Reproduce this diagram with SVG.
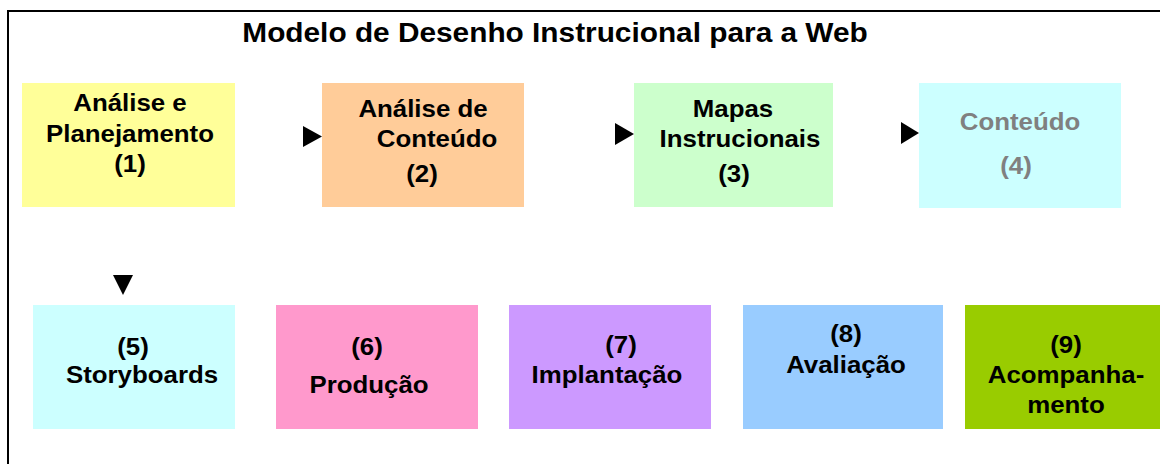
<svg xmlns="http://www.w3.org/2000/svg" width="1160" height="464" viewBox="0 0 1160 464">
<style>
.t{font-family:"Liberation Sans",Arial,sans-serif;font-weight:bold;font-size:23.5px;text-anchor:middle;fill:#000}
.g{fill:#808080}
.ttl{font-family:"Liberation Sans",Arial,sans-serif;font-weight:bold;font-size:28px;text-anchor:middle;fill:#000}
.ah{fill:#000}
</style>
<rect width="1160" height="464" fill="#fff"/>
<path d="M8,464 V11 H1160" fill="none" stroke="#000" stroke-width="2"/>
<text class="ttl" transform="translate(555,42) scale(1.065,1)">Modelo de Desenho Instrucional para a Web</text>
<g id="n1">
<rect x="22" y="83" width="213" height="124" fill="#FFFF99"/>
<text class="t" transform="translate(130,111) scale(1.1,1)">Análise e</text>
<text class="t" transform="translate(130,142) scale(1.1,1)">Planejamento</text>
<text class="t" transform="translate(130,172) scale(1.1,1)">(1)</text>
</g>
<g id="n2">
<rect x="322" y="83" width="202" height="124" fill="#FFCC99"/>
<text class="t" transform="translate(423,117) scale(1.1,1)">Análise de</text>
<text class="t" transform="translate(437,147) scale(1.1,1)">Conteúdo</text>
<text class="t" transform="translate(422,182) scale(1.1,1)">(2)</text>
</g>
<g id="n3">
<rect x="634" y="83" width="199" height="124" fill="#CCFFCC"/>
<text class="t" transform="translate(733,117) scale(1.1,1)">Mapas</text>
<text class="t" transform="translate(740,147) scale(1.1,1)">Instrucionais</text>
<text class="t" transform="translate(734,182) scale(1.1,1)">(3)</text>
</g>
<g id="n4">
<rect x="919" y="83" width="202" height="125" fill="#CCFFFF"/>
<text class="t g" transform="translate(1020,130) scale(1.1,1)">Conteúdo</text>
<text class="t g" transform="translate(1016,174) scale(1.1,1)">(4)</text>
</g>
<g id="n5">
<rect x="33" y="305" width="202" height="124" fill="#CCFFFF"/>
<text class="t" transform="translate(133,355) scale(1.1,1)">(5)</text>
<text class="t" transform="translate(142,383) scale(1.1,1)">Storyboards</text>
</g>
<g id="n6">
<rect x="276" y="305" width="202" height="124" fill="#FF99CC"/>
<text class="t" transform="translate(367,355) scale(1.1,1)">(6)</text>
<text class="t" transform="translate(369,393) scale(1.1,1)">Produção</text>
</g>
<g id="n7">
<rect x="509" y="305" width="202" height="124" fill="#CC99FF"/>
<text class="t" transform="translate(621,353) scale(1.1,1)">(7)</text>
<text class="t" transform="translate(607,383) scale(1.1,1)">Implantação</text>
</g>
<g id="n8">
<rect x="743" y="305" width="200" height="124" fill="#99CCFF"/>
<text class="t" transform="translate(846,342) scale(1.1,1)">(8)</text>
<text class="t" transform="translate(846,373) scale(1.1,1)">Avaliação</text>
</g>
<g id="n9">
<rect x="965" y="305" width="195" height="124" fill="#99CC00"/>
<text class="t" transform="translate(1066,353) scale(1.1,1)">(9)</text>
<text class="t" transform="translate(1066,383) scale(1.1,1)">Acompanha-</text>
<text class="t" transform="translate(1066,413) scale(1.1,1)">mento</text>
</g>
<g id="connectors">
<polygon class="ah" points="303,126 303,147 322,136.5"/>
<polygon class="ah" points="615,123 615,145 634,134"/>
<polygon class="ah" points="901,122 901,144 919,133"/>
<polygon class="ah" points="113,275 133,275 123,295"/>
</g>
</svg>
